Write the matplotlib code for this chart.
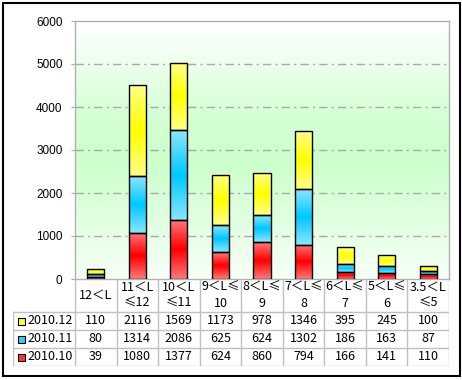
import numpy as np
import matplotlib
matplotlib.use("Agg")
import matplotlib.pyplot as plt
from matplotlib.colors import LinearSegmentedColormap
from matplotlib.patches import Rectangle

plt.rcParams['font.family'] = ['Noto Sans CJK SC', 'DejaVu Sans']

categories = ["12＜L", "11＜L\n≤12", "10＜L\n≤11", "9＜L≤\n10", "8＜L≤\n9",
              "7＜L≤\n8", "6＜L≤\n7", "5＜L≤\n6", "3.5＜L\n≤5"]
series_names = ["2010.12", "2010.11", "2010.10"]
v_2010_12 = [110, 2116, 1569, 1173, 978, 1346, 395, 245, 100]
v_2010_11 = [80, 1314, 2086, 625, 624, 1302, 186, 163, 87]
v_2010_10 = [39, 1080, 1377, 624, 860, 794, 166, 141, 110]
yticks = [0, 1000, 2000, 3000, 4000, 5000, 6000]

# (edge colour, middle colour) for the banded gradient of each series
grad = {
    "2010.10": ("#ff7a7a", "#ff0000"),
    "2010.11": ("#8ae6ff", "#00c8ff"),
    "2010.12": ("#ffff88", "#ffff00"),
}
key_col = {"2010.10": "#ff3333", "2010.11": "#33ccff", "2010.12": "#ffff33"}

W, H = 462, 380
fig = plt.figure(figsize=(W / 100, H / 100), dpi=100)
fig.patch.set_facecolor("white")

def fx(px):
    return px / W

def fy(py):
    return 1 - py / H

ax = fig.add_axes([fx(75), fy(279), fx(449) - fx(75), fy(21) - fy(279)])

# plot area background: white top -> green middle -> pale bottom
bg = LinearSegmentedColormap.from_list(
    "bg", [(0, "#f7fff7"), (0.45, "#ccffcc"), (0.62, "#d4ffd4"), (1, "#ffffff")])
ax.imshow(np.linspace(0, 1, 256)[:, None], cmap=bg, aspect="auto",
          extent=[0, 1, 0, 1], transform=ax.transAxes, origin="lower", zorder=0)

for y in yticks[1:-1]:
    ax.axhline(y, color="#aaaaaa", lw=1, linestyle=(0, (6, 3, 1.5, 3)), zorder=1)

x = np.arange(len(categories))
bw = 0.41
prof = np.concatenate([np.linspace(0, 1, 50), np.linspace(1, 0, 50)])[:, None]
bottom = np.zeros(len(categories))
for name, vals in [("2010.10", v_2010_10), ("2010.11", v_2010_11), ("2010.12", v_2010_12)]:
    cmap = LinearSegmentedColormap.from_list(name, list(grad[name]))
    for xi, b, v in zip(x, bottom, vals):
        ax.imshow(prof, cmap=cmap, aspect="auto", origin="lower",
                  extent=[xi - bw / 2, xi + bw / 2, b, b + v], zorder=2)
    ax.bar(x, vals, bw, bottom=bottom, fill=False, edgecolor="black", lw=1, zorder=3)
    bottom += np.array(vals)

ax.set_xlim(-0.5, len(categories) - 0.5)
ax.set_ylim(0, 6000)
ax.set_yticks(yticks)
ax.set_yticklabels([str(t) for t in yticks], fontsize=8.5, family="Liberation Sans")
ax.set_xticks([])
ax.tick_params(axis="y", length=3, color="#aaaaaa", pad=6)
for s in ax.spines.values():
    s.set_color("#b0b0b0")
    s.set_linewidth(1)

# data table under the plot
cw = 62 / (374 / len(categories))
tab = fig.add_axes([fx(13), fy(366), fx(449) - fx(13), fy(279) - fy(366)])
tab.set_xlim(-0.5 - cw, len(categories) - 0.5)
tab.set_ylim(0, 87)
tab.axis("off")
lc = "#c0c0c0"
for i in range(len(categories) + 1):
    tab.plot([i - 0.5, i - 0.5], [0, 87], color=lc, lw=1)
tab.plot([-0.5 - cw, -0.5 - cw], [0, 54], color=lc, lw=1)
for yy in [0, 18, 36, 54]:
    tab.plot([-0.5 - cw, len(categories) - 0.5], [yy, yy], color=lc, lw=1)

for i, c in enumerate(categories):
    tab.text(i, 70.5, c, ha="center", va="center", fontsize=9, linespacing=1.3)

rows = [("2010.12", v_2010_12), ("2010.11", v_2010_11), ("2010.10", v_2010_10)]
for r, (name, vals) in enumerate(rows):
    yc = 45 - 18 * r
    sq = 7 / (374 / len(categories))
    tab.add_patch(Rectangle((-0.5 - cw + 5 / 41.6, yc - 3.5), sq, 7,
                            facecolor=key_col[name], edgecolor="black", lw=0.8))
    tab.text(-0.5 - cw + 14 / 41.6, yc, name, ha="left", va="center", fontsize=9)
    for i, v in enumerate(vals):
        tab.text(i, yc, str(v), ha="center", va="center", fontsize=9)

fig.add_artist(Rectangle((fx(2.5), fy(376)), fx(459.5) - fx(2.5), fy(2.5) - fy(376),
                         transform=fig.transFigure, fill=False, edgecolor="black", lw=1.5))

fig.savefig("out.png", dpi=100)
